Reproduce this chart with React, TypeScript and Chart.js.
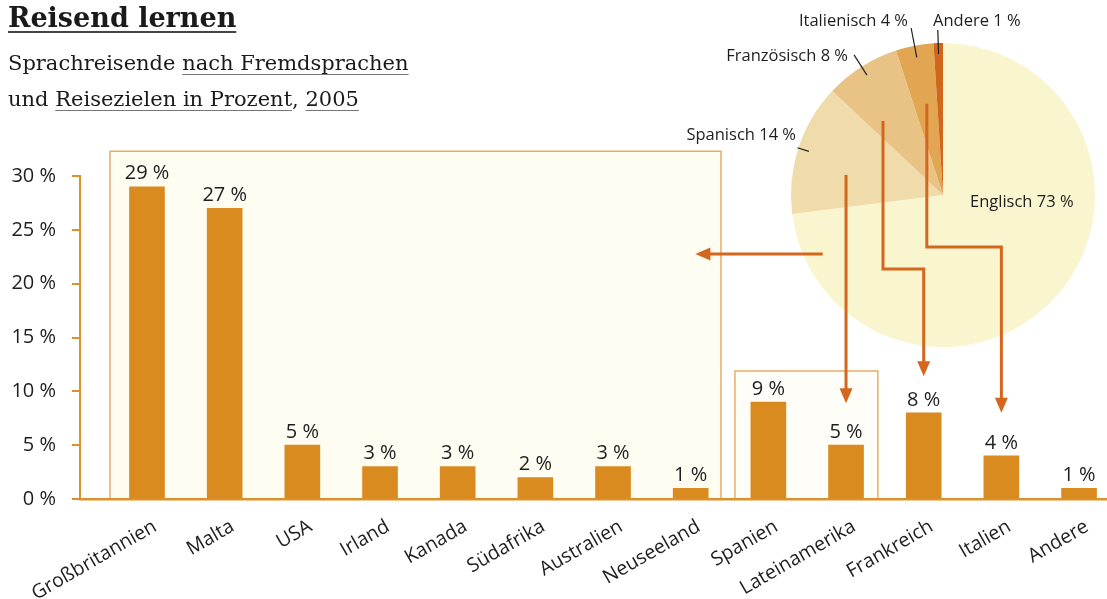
import React, { useEffect, useRef } from "react";
import { Chart, registerables } from "chart.js";

Chart.register(...registerables);

// ---------- data ----------
const destinations = [
  "Großbritannien", "Malta", "USA", "Irland", "Kanada", "Südafrika", "Australien",
  "Neuseeland", "Spanien", "Lateinamerika", "Frankreich", "Italien", "Andere",
];
const destinationShares = [29, 27, 5, 3, 3, 2, 3, 1, 9, 5, 8, 4, 1];

const languages = ["Englisch", "Spanisch", "Französisch", "Italienisch", "Andere"];
const languageShares = [73, 14, 8, 4, 1];

const yTickValues = [0, 5, 10, 15, 20, 25, 30];

// ---------- style ----------
const BAR = "#d98b1f";
const AXIS = "#dc922c";
const ARROW = "#d4671d";
const BOX = "#e6ad6a";
const TEXT = "#1e1e1e";
const SANS = '"Open Sans", "Noto Sans", sans-serif';
const PIE_COLORS = ["#f8f5cf", "#f0dcaa", "#e9c385", "#e2a552", "#d1661d"];
const PCT = " %";

// decoration geometry in data units (x = category index, y = percent)
const groupBoxes = [
  { x0: -0.477, x1: 7.39, top: 32.3, fill: "#fffcf2" },
  { x0: 7.57, x1: 9.41, top: 11.9, fill: "#fffdf7" },
];
const arrowPaths = [
  [[8.7, 22.75], [7.06, 22.75]],
  [[9, 30.1], [9, 8.9]],
  [[9.476, 35.1], [9.476, 21.36], [10, 21.36], [10, 11.4]],
  [[10.04, 36.7], [10.04, 23.4], [11, 23.4], [11, 8.0]],
];
// pie label layout relative to pie centre (px)
const pieLabelLayout = [
  { dx: 27, dy: 7, align: "left", rIn: 0, rOut: 0 },
  { dx: -147, dy: -60, align: "right", rIn: 141, rOut: 153 },
  { dx: -95, dy: -139, align: "right", rIn: 142, rOut: 166 },
  { dx: -35, dy: -174, align: "right", rIn: 140, rOut: 170 },
  { dx: -10, dy: -174, align: "left", rIn: 141, rOut: 165 },
];

const barDecor = {
  id: "barDecor",
  beforeDraw(chart: any) {
    const { ctx } = chart;
    const xs = chart.scales.x;
    const ys = chart.scales.y;
    ctx.save();
    groupBoxes.forEach((b) => {
      const l = xs.getPixelForValue(b.x0);
      const r = xs.getPixelForValue(b.x1);
      const t = ys.getPixelForValue(b.top);
      const btm = ys.getPixelForValue(0);
      ctx.fillStyle = b.fill;
      ctx.fillRect(l, t, r - l, btm - t);
      ctx.strokeStyle = BOX;
      ctx.lineWidth = 1.5;
      ctx.beginPath();
      ctx.moveTo(l, btm);
      ctx.lineTo(l, t);
      ctx.lineTo(r, t);
      ctx.lineTo(r, btm);
      ctx.stroke();
    });
    ctx.restore();
  },
  afterDatasetsDraw(chart: any) {
    const { ctx } = chart;
    const xs = chart.scales.x;
    const ys = chart.scales.y;
    const meta = chart.getDatasetMeta(0);
    ctx.save();
    ctx.font = `20px ${SANS}`;
    ctx.fillStyle = TEXT;
    ctx.textAlign = "center";
    ctx.textBaseline = "bottom";
    meta.data.forEach((bar: any, i: number) => {
      ctx.fillText(`${destinationShares[i]}${PCT}`, bar.x, bar.y - 3);
    });
    // arrows
    ctx.strokeStyle = ARROW;
    ctx.fillStyle = ARROW;
    ctx.lineWidth = 3;
    arrowPaths.forEach((path) => {
      const pts = path.map(([x, y]) => [xs.getPixelForValue(x), ys.getPixelForValue(y)]);
      const n = pts.length;
      const [tx, ty] = pts[n - 1];
      const [px, py] = pts[n - 2];
      const ang = Math.atan2(ty - py, tx - px);
      const head = 15;
      const half = 6.5;
      ctx.beginPath();
      ctx.moveTo(pts[0][0], pts[0][1]);
      for (let k = 1; k < n - 1; k++) ctx.lineTo(pts[k][0], pts[k][1]);
      ctx.lineTo(tx - Math.cos(ang) * (head - 2), ty - Math.sin(ang) * (head - 2));
      ctx.stroke();
      ctx.beginPath();
      ctx.moveTo(tx, ty);
      const bx = tx - Math.cos(ang) * head;
      const by = ty - Math.sin(ang) * head;
      ctx.lineTo(bx + Math.sin(ang) * half, by - Math.cos(ang) * half);
      ctx.lineTo(bx - Math.sin(ang) * half, by + Math.cos(ang) * half);
      ctx.closePath();
      ctx.fill();
    });
    ctx.restore();
  },
};

const pieDecor = {
  id: "pieDecor",
  afterDatasetsDraw(chart: any) {
    const { ctx } = chart;
    const meta = chart.getDatasetMeta(0);
    ctx.save();
    ctx.font = `16.5px ${SANS}`;
    ctx.fillStyle = TEXT;
    ctx.strokeStyle = "#222";
    ctx.lineWidth = 1.2;
    ctx.textBaseline = "middle";
    meta.data.forEach((arc: any, i: number) => {
      const L = pieLabelLayout[i];
      const cx = arc.x;
      const cy = arc.y;
      const mid = (arc.startAngle + arc.endAngle) / 2;
      if (L.rOut > 0) {
        ctx.beginPath();
        ctx.moveTo(cx + Math.cos(mid) * L.rOut, cy + Math.sin(mid) * L.rOut);
        ctx.lineTo(cx + Math.cos(mid) * L.rIn, cy + Math.sin(mid) * L.rIn);
        ctx.stroke();
      }
      ctx.textAlign = L.align as CanvasTextAlign;
      ctx.fillText(`${languages[i]} ${languageShares[i]}${PCT}`, cx + L.dx, cy + L.dy);
    });
    ctx.restore();
  },
};

export default function App() {
  const barRef = useRef<HTMLCanvasElement | null>(null);
  const pieRef = useRef<HTMLCanvasElement | null>(null);

  useEffect(() => {
    const pie = new Chart(pieRef.current as HTMLCanvasElement, {
      type: "pie",
      data: {
        labels: languages,
        datasets: [{ data: languageShares, backgroundColor: PIE_COLORS, borderWidth: 0 }],
      },
      options: {
        responsive: false,
        animation: false,
        devicePixelRatio: 1,
        layout: { padding: { left: 131, right: 12, top: 43, bottom: 13 } },
        plugins: { legend: { display: false }, tooltip: { enabled: false } },
        events: [],
      },
      plugins: [pieDecor],
    });

    const bar = new Chart(barRef.current as HTMLCanvasElement, {
      type: "bar",
      data: {
        datasets: [
          {
            data: destinationShares.map((v, i) => ({ x: i, y: v })),
            backgroundColor: BAR,
            barThickness: 35,
            borderWidth: 0,
          },
        ],
      },
      options: {
        responsive: false,
        animation: false,
        devicePixelRatio: 1,
        events: [],
        layout: { padding: { top: 176, left: 0, right: 0, bottom: 0 } },
        plugins: { legend: { display: false }, tooltip: { enabled: false } },
        scales: {
          x: {
            type: "linear",
            offset: false,
            min: -0.8627,
            max: 12.36,
            grid: { display: false, offset: false },
            border: { display: true, color: AXIS, width: 2.5 },
            afterBuildTicks: (axis: any) => {
              axis.ticks = destinations.map((_, i) => ({ value: i }));
            },
            afterFit: (s: any) => {
              s.height = 100;
            },
            ticks: {
              autoSkip: false,
              minRotation: 30,
              maxRotation: 30,
              padding: 8,
              labelOffset: 8,
              color: TEXT,
              font: { family: SANS, size: 19.5 },
              callback: (v: any) => destinations[v as number] ?? "",
            },
          },
          y: {
            min: 0,
            max: 30,
            afterBuildTicks: (axis: any) => {
              axis.ticks = yTickValues.map((v) => ({ value: v }));
            },
            afterFit: (s: any) => {
              s.width = 80;
            },
            grid: { drawOnChartArea: false, drawTicks: true, tickLength: 8, color: AXIS, lineWidth: 2 },
            border: { display: true, color: AXIS, width: 2 },
            ticks: {
              padding: 16,
              color: TEXT,
              font: { family: SANS, size: 20 },
              callback: (v: any) => `${v}${PCT}`,
            },
          },
        },
      },
      plugins: [barDecor],
    });

    return () => {
      bar.destroy();
      pie.destroy();
    };
  }, []);

  const serif = '"DejaVu Serif", serif';
  const ul: React.CSSProperties = {
    textDecoration: "underline",
    textDecorationColor: "#777",
    textDecorationThickness: "1px",
    textUnderlineOffset: "4px",
  };

  return (
    <div
      style={{
        position: "fixed",
        left: 0,
        top: 0,
        width: 1107,
        height: 599,
        background: "#ffffff",
        overflow: "hidden",
      }}
    >
      <canvas
        ref={pieRef}
        width={447}
        height={360}
        style={{ position: "absolute", left: 660, top: 0, width: 447, height: 360 }}
      />
      <canvas
        ref={barRef}
        width={1107}
        height={599}
        style={{ position: "absolute", left: 0, top: 0, width: 1107, height: 599 }}
      />
      <div
        style={{
          position: "absolute",
          left: 8,
          top: 0,
          fontFamily: serif,
          fontSize: 27,
          fontWeight: 600,
          color: "#1a1a1a",
          lineHeight: "36px",
          textDecoration: "underline",
          textDecorationThickness: "1.5px",
          textUnderlineOffset: "4px",
          textDecorationColor: "#444",
          whiteSpace: "nowrap",
        }}
      >
        Reisend lernen
      </div>
      <div
        style={{
          position: "absolute",
          left: 8,
          top: 45,
          fontFamily: serif,
          fontSize: 21,
          color: "#1a1a1a",
          lineHeight: "36px",
          whiteSpace: "nowrap",
        }}
      >
        <div>
          Sprachreisende <span style={ul}>nach Fremdsprachen</span>
        </div>
        <div>
          und <span style={ul}>Reisezielen in Prozent</span>, <span style={ul}>2005</span>
        </div>
      </div>
    </div>
  );
}
